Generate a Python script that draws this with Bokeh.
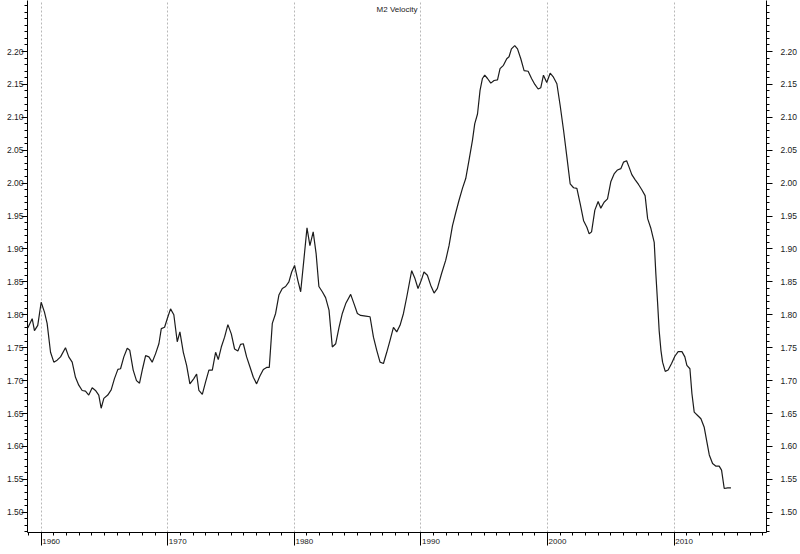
from bokeh.plotting import figure
from bokeh.models import LinearAxis, FixedTicker, NumeralTickFormatter, Range1d, Label
from bokeh.embed import file_html
from bokeh.resources import INLINE

title_text = "M2 Velocity"

years = [
    1958.94, 1959.29, 1959.47, 1959.73, 1960.00, 1960.26, 1960.47, 1960.74, 1961.00, 1961.26,
    1961.53, 1961.92, 1962.18, 1962.45, 1962.71, 1962.97, 1963.24, 1963.50, 1963.76, 1964.03,
    1964.29, 1964.55, 1964.74, 1964.95, 1965.26, 1965.53, 1965.79, 1966.06, 1966.27, 1966.53,
    1966.80, 1967.00, 1967.27, 1967.53, 1967.77, 1968.01, 1968.25, 1968.51, 1968.77, 1969.04,
    1969.30, 1969.49, 1969.75, 1969.96, 1970.22, 1970.48, 1970.75, 1970.96, 1971.23, 1971.49,
    1971.75, 1972.06, 1972.28, 1972.46, 1972.73, 1972.99, 1973.25, 1973.52, 1973.78, 1973.99,
    1974.23, 1974.49, 1974.75, 1975.02, 1975.28, 1975.54, 1975.75, 1975.97, 1976.23, 1976.49,
    1976.76, 1977.02, 1977.28, 1977.55, 1977.81, 1978.02, 1978.26, 1978.52, 1978.78, 1979.05,
    1979.31, 1979.57, 1979.79, 1980.02, 1980.28, 1980.50, 1980.76, 1981.00, 1981.23, 1981.49,
    1981.72, 1981.94, 1982.21, 1982.47, 1982.74, 1983.00, 1983.27, 1983.53, 1983.79, 1984.06,
    1984.45, 1984.71, 1984.98, 1985.24, 1985.64, 1985.98, 1986.25, 1986.51, 1986.77, 1987.04,
    1987.30, 1987.56, 1987.83, 1988.09, 1988.35, 1988.62, 1988.88, 1989.27, 1989.53, 1989.77,
    1990.04, 1990.24, 1990.51, 1990.77, 1991.04, 1991.30, 1991.62, 1991.96, 1992.22, 1992.49,
    1992.75, 1993.01, 1993.28, 1993.54, 1993.80, 1994.07, 1994.25, 1994.47, 1994.67, 1994.86,
    1995.04, 1995.26, 1995.52, 1995.78, 1996.05, 1996.25, 1996.52, 1996.78, 1996.96, 1997.15,
    1997.41, 1997.63, 1997.89, 1998.15, 1998.47, 1998.74, 1999.00, 1999.26, 1999.47, 1999.68,
    1999.94, 2000.21, 2000.47, 2000.74, 2001.00, 2001.27, 2001.53, 2001.79, 2002.06, 2002.32,
    2002.58, 2002.85, 2003.11, 2003.29, 2003.48, 2003.74, 2004.00, 2004.21, 2004.47, 2004.74,
    2005.00, 2005.26, 2005.53, 2005.79, 2006.01, 2006.25, 2006.45, 2006.66, 2006.93, 2007.19,
    2007.45, 2007.71, 2007.91, 2008.17, 2008.43, 2008.56, 2008.70, 2008.82, 2008.96, 2009.09,
    2009.30, 2009.53, 2009.80, 2010.06, 2010.32, 2010.62, 2010.85, 2011.01, 2011.25, 2011.41,
    2011.59, 2011.86, 2012.12, 2012.38, 2012.59, 2012.78, 2013.04, 2013.31, 2013.56, 2013.75,
    2013.96, 2014.23, 2014.49,
]

velocity = [
    1.780, 1.794, 1.776, 1.784, 1.819, 1.804, 1.787, 1.743, 1.728, 1.731,
    1.736, 1.750, 1.736, 1.728, 1.705, 1.693, 1.685, 1.684, 1.678, 1.689,
    1.685, 1.678, 1.658, 1.673, 1.678, 1.686, 1.703, 1.717, 1.718, 1.736,
    1.749, 1.746, 1.716, 1.700, 1.696, 1.718, 1.738, 1.736, 1.728, 1.741,
    1.756, 1.779, 1.781, 1.794, 1.809, 1.800, 1.759, 1.774, 1.743, 1.723,
    1.695, 1.703, 1.710, 1.685, 1.679, 1.698, 1.716, 1.716, 1.743, 1.732,
    1.751, 1.766, 1.785, 1.771, 1.748, 1.745, 1.755, 1.756, 1.736, 1.721,
    1.705, 1.695, 1.707, 1.717, 1.720, 1.720, 1.787, 1.802, 1.830, 1.840,
    1.843, 1.850, 1.865, 1.875, 1.852, 1.835, 1.885, 1.932, 1.905, 1.926,
    1.893, 1.843, 1.835, 1.826, 1.807, 1.751, 1.756, 1.781, 1.802, 1.817,
    1.831, 1.817, 1.802, 1.799, 1.798, 1.797, 1.766, 1.746, 1.728, 1.726,
    1.743, 1.761, 1.781, 1.774, 1.784, 1.802, 1.827, 1.867, 1.855, 1.840,
    1.853, 1.865, 1.860, 1.845, 1.833, 1.840, 1.862, 1.883, 1.905, 1.935,
    1.955, 1.974, 1.992, 2.007, 2.035, 2.065, 2.090, 2.105, 2.141, 2.159,
    2.164, 2.159, 2.152, 2.156, 2.157, 2.174, 2.179, 2.189, 2.192, 2.204,
    2.209, 2.204, 2.189, 2.171, 2.170, 2.159, 2.150, 2.143, 2.145, 2.164,
    2.153, 2.167, 2.161, 2.151, 2.118, 2.080, 2.040, 1.999, 1.993, 1.992,
    1.969, 1.943, 1.933, 1.923, 1.926, 1.959, 1.972, 1.962, 1.971, 1.976,
    2.002, 2.014, 2.020, 2.022, 2.032, 2.034, 2.024, 2.013, 2.005, 1.998,
    1.990, 1.981, 1.946, 1.931, 1.910, 1.862, 1.817, 1.776, 1.746, 1.728,
    1.714, 1.716, 1.726, 1.737, 1.744, 1.744, 1.736, 1.723, 1.718, 1.680,
    1.652, 1.647, 1.642, 1.629, 1.607, 1.587, 1.574, 1.570, 1.570, 1.564,
    1.536, 1.537, 1.537,
]

decades = [1960, 1970, 1980, 1990, 2000, 2010]
decade_labels = ["1960", "1970", "1980", "1990", "2000", "2010"]
year_minor_ticks = list(range(1959, 2018))

y_ticks = [1.50, 1.55, 1.60, 1.65, 1.70, 1.75, 1.80, 1.85, 1.90, 1.95, 2.00, 2.05, 2.10, 2.15, 2.20]
y_minor_ticks = [round(1.47 + 0.01 * i, 2) for i in range(81)]

X_START, X_END = 1958.92, 2017.30
Y_START, Y_END = 1.4692, 2.2775

TEXT_FONT = "Liberation Sans"
TEXT_COLOR = "#1a1a1a"

p = figure(
    width=800, height=554,
    output_backend="svg", toolbar_location=None,
    x_range=Range1d(X_START, X_END), y_range=Range1d(Y_START, Y_END),
    min_border_left=27, min_border_right=34, min_border_top=0, min_border_bottom=22,
    background_fill_color="white", border_fill_color="white",
    outline_line_color=None,
)

# grid
p.ygrid.visible = False
p.xgrid.ticker = FixedTicker(ticks=decades)
p.xgrid.grid_line_color = "#b8b8b8"
p.xgrid.grid_line_dash = "2 2"
p.xgrid.grid_line_width = 1

# left axis
yl = p.yaxis[0]
yl.ticker = FixedTicker(ticks=y_ticks, minor_ticks=y_minor_ticks)
yl.formatter = NumeralTickFormatter(format="0.00")

# right axis
yr = LinearAxis(ticker=FixedTicker(ticks=y_ticks, minor_ticks=y_minor_ticks),
                formatter=NumeralTickFormatter(format="0.00"))
p.add_layout(yr, "right")

for ax in (yl, yr):
    ax.axis_line_color = "black"
    ax.axis_line_width = 1
    ax.major_tick_line_color = "black"
    ax.minor_tick_line_color = "black"
    ax.major_tick_in = 0
    ax.major_tick_out = 6
    ax.minor_tick_in = 0
    ax.minor_tick_out = 3
    ax.major_label_text_font = TEXT_FONT
    ax.major_label_text_font_size = "8.5px"
    ax.major_label_text_color = TEXT_COLOR
yl.major_label_standoff = -2
yr.major_label_standoff = 8

# bottom axis: long decade ticks, labels set just right of each tick
pad = "\u2007\u2007\u2007\u2007\u00a0"
xa = p.xaxis[0]
xa.ticker = FixedTicker(ticks=decades, minor_ticks=year_minor_ticks)
xa.major_label_overrides = {d: pad + lab for d, lab in zip(decades, decade_labels)}
xa.axis_line_color = "black"
xa.major_tick_line_color = "black"
xa.minor_tick_line_color = "black"
xa.major_tick_in = 0
xa.major_tick_out = 13
xa.minor_tick_in = 0
xa.minor_tick_out = 3
xa.major_label_standoff = -9
xa.major_label_text_font = TEXT_FONT
xa.major_label_text_font_size = "8px"
xa.major_label_text_color = TEXT_COLOR

# series
p.line(years, velocity, line_color="#1c1c1c", line_width=1.2)

# title inside the frame
p.add_layout(Label(x=(X_START + X_END) / 2, y=Y_END, y_offset=-4, text=title_text,
                   text_font=TEXT_FONT, text_font_size="8px", text_color=TEXT_COLOR,
                   text_align="center", text_baseline="top"))

open("out.html", "w").write(file_html(p, INLINE))
